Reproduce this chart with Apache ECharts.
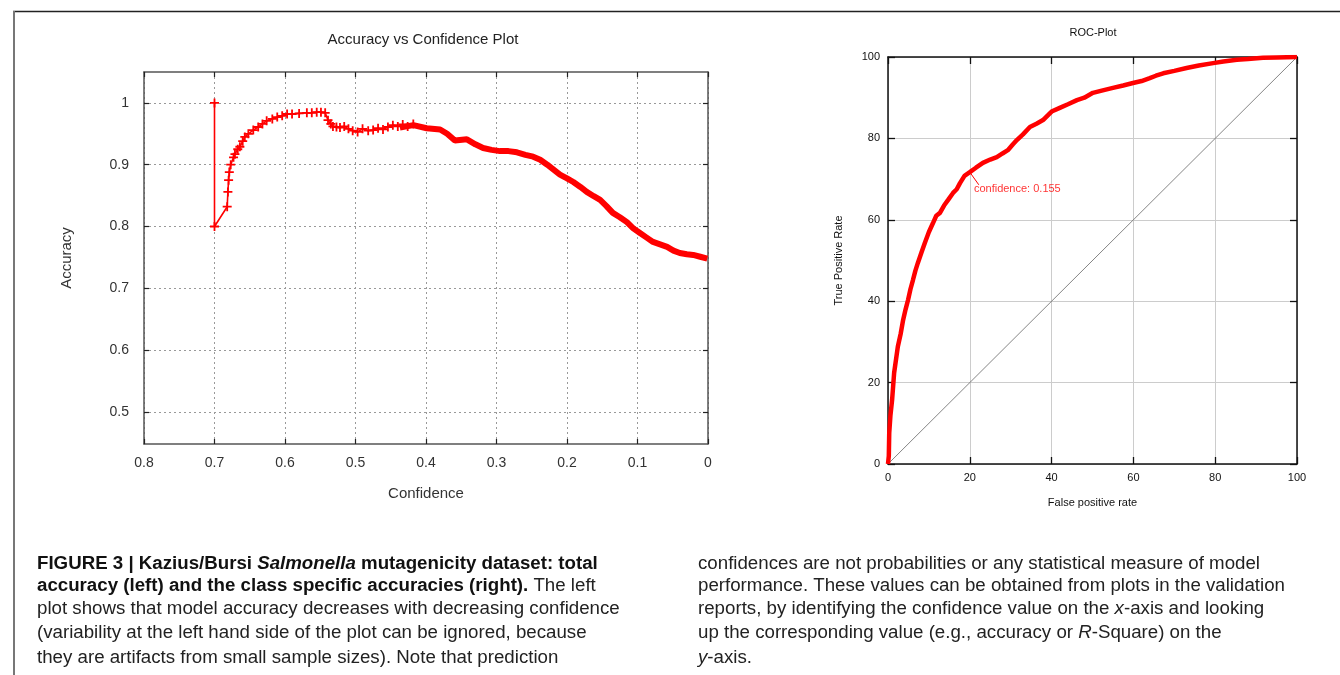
<!DOCTYPE html>
<html>
<head>
<meta charset="utf-8">
<script src="https://cdn.jsdelivr.net/npm/echarts@6.0.0/dist/echarts.min.js"></script>
<style>
html, body { margin: 0; padding: 0; background: #fff; }
#main { width: 1340px; height: 675px; }
</style>
</head>
<body>
<div id="main"></div>
<script>
// left plot: accuracy vs confidence (sparse head drawn with crosses)
var confHead = [0.7, 0.7, 0.682, 0.681, 0.680, 0.679, 0.677, 0.673, 0.671, 0.667, 0.664, 0.660, 0.657, 0.652,
  0.645, 0.638, 0.632, 0.626, 0.618, 0.611, 0.604, 0.597, 0.590, 0.580, 0.569, 0.562, 0.555, 0.549, 0.543,
  0.539, 0.535, 0.532, 0.527, 0.522, 0.516, 0.510, 0.504, 0.497, 0.490, 0.482, 0.475, 0.468, 0.461, 0.454,
  0.447, 0.440, 0.433, 0.426, 0.418];
var accHead = [1.0, 0.8, 0.832, 0.856, 0.875, 0.888, 0.900, 0.912, 0.917, 0.925, 0.929, 0.938, 0.945, 0.950,
  0.956, 0.961, 0.966, 0.971, 0.974, 0.977, 0.979, 0.982, 0.982, 0.983, 0.984, 0.984, 0.985, 0.985, 0.984,
  0.972, 0.966, 0.962, 0.961, 0.960, 0.962, 0.958, 0.955, 0.953, 0.958, 0.955, 0.956, 0.959, 0.957, 0.961,
  0.964, 0.962, 0.965, 0.962, 0.966];
// dense tail, drawn as a thick band
var confTail = [0.437, 0.418, 0.399, 0.380, 0.370, 0.359, 0.342, 0.330, 0.319, 0.307, 0.295, 0.283, 0.271,
  0.259, 0.248, 0.238, 0.228, 0.219, 0.210, 0.200, 0.191, 0.181, 0.172, 0.162, 0.153, 0.144, 0.135, 0.125,
  0.115, 0.106, 0.096, 0.087, 0.078, 0.068, 0.058, 0.049, 0.040, 0.030, 0.021, 0.011, 0.001];
var accTail = [0.960, 0.964, 0.959, 0.957, 0.950, 0.939, 0.941, 0.933, 0.927, 0.924, 0.922, 0.922, 0.920,
  0.916, 0.913, 0.908, 0.900, 0.892, 0.884, 0.878, 0.872, 0.864, 0.856, 0.849, 0.843, 0.833, 0.822, 0.815,
  0.807, 0.797, 0.789, 0.782, 0.775, 0.771, 0.767, 0.761, 0.757, 0.755, 0.754, 0.751, 0.748];
var accTicks = [0.5, 0.6, 0.7, 0.8, 0.9, 1];

// right plot: ROC curve
var fpr = [0, 0.2, 0.3, 0.6, 1, 1.5, 2.4, 3.1, 3.7, 4.3, 4.9, 5.5, 6.1, 6.7, 7.3, 8.2, 9, 10, 11, 11.8, 12.7,
  13.7, 14.7, 15.9, 16.8, 17.6, 18.7, 20, 21.5, 23.2, 25, 26.6, 28, 29.3, 30.5, 31.5, 33, 34.7, 36.3, 37.9,
  40, 42, 44, 46.2, 48, 50.1, 52.5, 55, 57.5, 59.9, 62, 64, 65.5, 67.3, 70, 73, 76, 79.5, 82, 85.3, 88,
  91.7, 95, 100];
var tpr = [0, 2, 7.6, 12, 15.7, 22.4, 28.8, 32, 35.4, 38, 40.3, 43, 45.2, 47.5, 49.4, 52, 54.3, 57, 59.2, 61,
  61.7, 63.5, 64.9, 66.6, 67.5, 69, 70.8, 71.7, 72.8, 74, 74.8, 75.4, 76.3, 77.1, 78.5, 79.6, 81, 82.8,
  83.6, 84.5, 86.6, 87.5, 88.4, 89.4, 90, 91.2, 91.8, 92.4, 93, 93.6, 94.1, 94.8, 95.4, 96, 96.6, 97.3,
  97.9, 98.5, 98.9, 99.3, 99.5, 99.8, 99.9, 100];
var diagonal = [[0, 0], [100, 100]];
var notePointer = [[20, 71.7], [22.2, 68.6]];
var noteAt = [21, 67.6];
var noteText = 'confidence: 0.155';

function zip(a, b) {
  return a.map(function (v, i) { return [v, b[i]]; });
}

var crossPath = 'path://M4 0h2v4h4v2h-4v4h-2v-4h-4v-2h4z';
var font = 'Liberation Sans';
var capFont = 'Liberation Sans';
var capSize = 18.7;

function leftX(pos, show) {
  return {
    type: 'value', gridIndex: 0, position: pos, inverse: true, min: 0, max: 0.8, interval: 0.1,
    axisLine: { show: true, onZero: false, lineStyle: { color: '#555', width: 1.5 } },
    axisTick: { show: true, inside: true, length: 5, lineStyle: { color: '#222', width: 1.2 } },
    axisLabel: { show: show, fontFamily: font, fontSize: 14, color: '#333', margin: 12 },
    splitLine: { show: show, lineStyle: { color: '#999', type: [2, 3], width: 1 } },
    name: show ? 'Confidence' : '', nameLocation: 'middle', nameGap: 42,
    nameTextStyle: { fontFamily: font, fontSize: 15, color: '#333' }
  };
}
function leftY(pos, show) {
  return {
    type: 'value', gridIndex: 0, position: pos, min: 0.448, max: 1.05,
    axisLine: { show: true, onZero: false, lineStyle: { color: '#555', width: 1.5 } },
    axisTick: { show: true, inside: true, length: 5, customValues: accTicks, lineStyle: { color: '#222', width: 1.2 } },
    axisLabel: { show: show, customValues: accTicks, fontFamily: font, fontSize: 14, color: '#333', margin: 15 },
    splitLine: { show: show, lineStyle: { color: '#999', type: [2, 3], width: 1 } },
    name: show ? 'Accuracy' : '', nameLocation: 'middle', nameGap: 70,
    nameTextStyle: { fontFamily: font, fontSize: 15, color: '#333' }
  };
}
function rocAxis(pos, show, name, gap) {
  return {
    type: 'value', gridIndex: 1, position: pos, min: 0, max: 100, interval: 20,
    axisLine: { show: true, onZero: false, lineStyle: { color: '#111', width: 1.5 } },
    axisTick: { show: true, inside: true, length: 7, lineStyle: { color: '#111', width: 1.3 } },
    axisLabel: { show: show, fontFamily: font, fontSize: 11, color: '#111', margin: 8 },
    splitLine: { show: show, lineStyle: { color: '#ccc', width: 1 } },
    name: show ? name : '', nameLocation: 'middle', nameGap: gap,
    nameTextStyle: { fontFamily: font, fontSize: 11, color: '#111' }
  };
}

function capLine(x, y, text) {
  return { type: 'text', left: x, top: y, style: { rich: capStyles, text: text } };
}
var capStyles = {
  b: { fontFamily: capFont, fontSize: capSize, fontWeight: 'bold', fill: '#111' },
  bi: { fontFamily: capFont, fontSize: capSize, fontWeight: 'bold', fontStyle: 'italic', fill: '#111' },
  n: { fontFamily: capFont, fontSize: capSize, fill: '#222' },
  i: { fontFamily: capFont, fontSize: capSize, fontStyle: 'italic', fill: '#222' }
};
var capLeft = [
  '{b|FIGURE 3 | Kazius/Bursi }{bi|Salmonella}{b| mutagenicity dataset: total}',
  '{b|accuracy (left) and the class specific accuracies (right).}{n| The left}',
  '{n|plot shows that model accuracy decreases with decreasing confidence}',
  '{n|(variability at the left hand side of the plot can be ignored, because}',
  '{n|they are artifacts from small sample sizes). Note that prediction}'
];
var capRight = [
  '{n|confidences are not probabilities or any statistical measure of model}',
  '{n|performance. These values can be obtained from plots in the validation}',
  '{n|reports, by identifying the confidence value on the }{i|x}{n|-axis and looking}',
  '{n|up the corresponding value (e.g., accuracy or }{i|R}{n|-Square) on the}',
  '{i|y}{n|-axis.}'
];
var capRows = [554, 576, 599, 623, 648];
var graphics = [
  { type: 'line', shape: { x1: 13, y1: 11.5, x2: 1340, y2: 11.5 }, style: { stroke: '#222', lineWidth: 1.5 } },
  { type: 'line', shape: { x1: 14, y1: 11, x2: 14, y2: 675 }, style: { stroke: '#777', lineWidth: 2 } }
];
capLeft.forEach(function (t, i) { graphics.push(capLine(37, capRows[i], t)); });
capRight.forEach(function (t, i) { graphics.push(capLine(698, capRows[i], t)); });

var chart = echarts.init(document.getElementById('main'));
chart.setOption({
  animation: false,
  backgroundColor: '#fff',
  title: [
    { text: 'Accuracy vs Confidence Plot', left: 423, top: 32, padding: 0, textAlign: 'center',
      textStyle: { fontFamily: font, fontSize: 15, fontWeight: 'normal', color: '#222' } },
    { text: 'ROC-Plot', left: 1093, top: 27, padding: 0, textAlign: 'center',
      textStyle: { fontFamily: font, fontSize: 11, fontWeight: 'normal', color: '#111' } }
  ],
  grid: [
    { left: 144, top: 72, width: 564, height: 372 },
    { left: 888, top: 57, width: 409, height: 407 }
  ],
  xAxis: [
    leftX('bottom', true), leftX('top', false),
    rocAxis('bottom', true, 'False positive rate', 33), rocAxis('top', false, '', 0)
  ],
  yAxis: [
    leftY('left', true), leftY('right', false),
    rocAxis('left', true, 'True Positive Rate', 44), rocAxis('right', false, '', 0)
  ],
  series: [
    { type: 'line', xAxisIndex: 0, yAxisIndex: 0, data: zip(confHead, accHead), color: '#ff0000',
      symbol: crossPath, symbolSize: 9, showSymbol: true, lineStyle: { width: 1.6 }, z: 5 },
    { type: 'line', xAxisIndex: 0, yAxisIndex: 0, data: zip(confTail, accTail), color: '#ff0000',
      symbol: 'none', lineStyle: { width: 6 }, clip: false, z: 5 },
    { type: 'line', xAxisIndex: 2, yAxisIndex: 2, data: diagonal, color: '#666',
      symbol: 'none', lineStyle: { width: 0.8 }, z: 3 },
    { type: 'line', xAxisIndex: 2, yAxisIndex: 2, data: zip(fpr, tpr), color: '#ff0000',
      symbol: 'none', lineStyle: { width: 4.5 }, z: 5 },
    { type: 'line', xAxisIndex: 2, yAxisIndex: 2, data: notePointer, color: '#ff0000',
      symbol: 'none', lineStyle: { width: 1 }, z: 6 },
    { type: 'scatter', xAxisIndex: 2, yAxisIndex: 2, data: [noteAt], symbolSize: 0, z: 6,
      label: { show: true, position: 'right', distance: 0, formatter: noteText,
        fontFamily: font, fontSize: 11, color: '#ff0000' } }
  ],
  graphic: graphics
});
</script>
</body>
</html>
